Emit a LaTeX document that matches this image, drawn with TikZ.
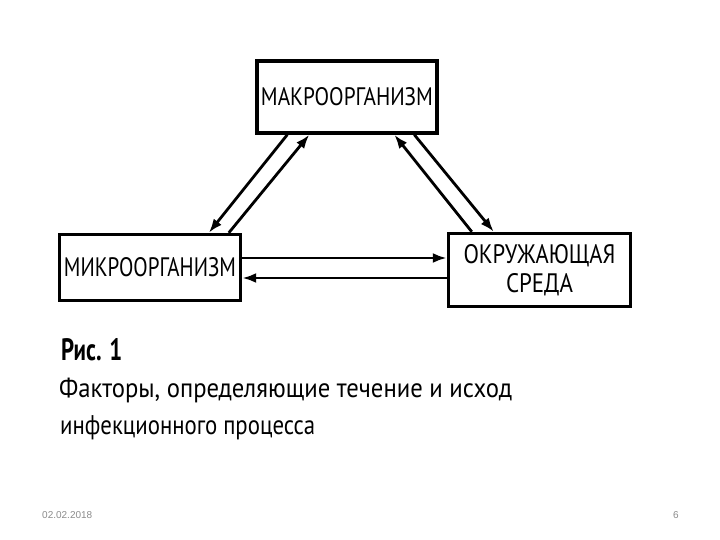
\documentclass[tikz,border=0pt]{standalone}
\usepackage{fontspec}
\setmainfont{PT Sans}
\newfontfamily\datefont{Liberation Sans}
\usetikzlibrary{arrows.meta,calc}
\begin{document}
\begin{tikzpicture}[x=1pt,y=-1pt,
  box/.style={draw, line width=3.4pt, inner sep=0pt, align=center},
  arr/.style={line width=2.8pt, -{Latex[length=14pt,width=10pt]}},
  capt/.style={anchor=base west, inner sep=0pt}]
\useasboundingbox[fill=white] (0,0) rectangle (720,540);
\node[box, minimum width=180pt, minimum height=72pt] (macro) at (347,97)
  {\resizebox{172pt}{18pt}{МАКРООРГАНИЗМ}};
\node[box, minimum width=181pt, minimum height=66pt] (micro) at (150,267.5)
  {\resizebox{172pt}{19pt}{МИКРООРГАНИЗМ}};
\node[box, minimum width=182pt, minimum height=73pt] (okr) at (539.5,270)
  {\resizebox{152pt}{19pt}{ОКРУЖАЮЩАЯ}\\[6pt]\resizebox{67pt}{19pt}{СРЕДА}};
% diagonal arrows, left pair
\draw[arr] ($(macro.south west)+(32,0)$) -- ($(micro.north west)+(151,0)$);
\draw[arr] ($(micro.north west)+(171,0)$) -- ($(macro.south west)+(54,0)$);
% diagonal arrows, right pair
\draw[arr] ($(macro.south west)+(159,0)$) -- ($(okr.north west)+(47,0)$);
\draw[arr] ($(okr.north west)+(25,0)$) -- ($(macro.south west)+(139,0)$);
% horizontal arrows
\coordinate (u) at ($(micro.east)+(0,-9.5)$);
\coordinate (l) at ($(micro.east)+(0,10.5)$);
\draw[arr] (u) -- (u -| okr.west);
\draw[arr] (l -| okr.west) -- (l);
% caption
\node[capt] (fig) at (61,360) {\resizebox{61pt}{22pt}{\bfseries Рис. 1}};
\node[capt] (c1) at (59,397) {\resizebox{453pt}{\height}{\fontsize{27}{30}\selectfont Факторы, определяющие течение и исход}};
\node[capt] (c2) at (60,434) {\resizebox{255pt}{\height}{\fontsize{27}{30}\selectfont инфекционного процесса}};
% footer
\node[capt, text=black!45] (date) at (42,518) {\datefont\fontsize{10}{12}\selectfont 02.02.2018};
\node[capt, text=black!45] (page) at (673,518) {\datefont\fontsize{10}{12}\selectfont 6};
\end{tikzpicture}
\end{document}
